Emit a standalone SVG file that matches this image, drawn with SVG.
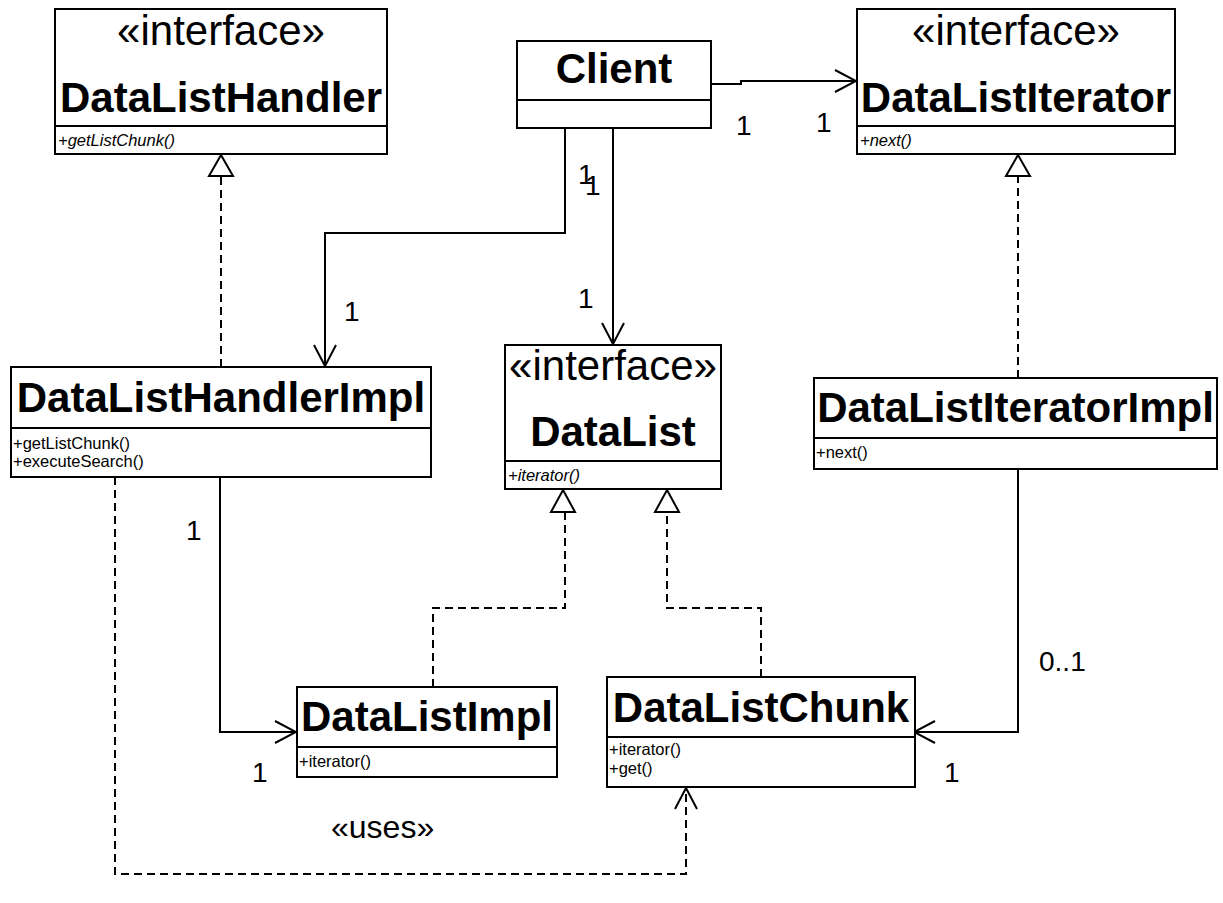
<svg xmlns="http://www.w3.org/2000/svg" width="1223" height="903" viewBox="0 0 1223 903">
<style>
.box{fill:#fff;stroke:#000;stroke-width:2}
.ln{fill:none;stroke:#000;stroke-width:2}
.dash{fill:none;stroke:#000;stroke-width:2;stroke-dasharray:8 5}
.tri{fill:#fff;stroke:#000;stroke-width:2}
.st{font-family:"Liberation Sans",Arial,sans-serif;font-size:42px;text-anchor:middle}
.nm{font-family:"Liberation Sans",Arial,sans-serif;font-size:42px;font-weight:bold;text-anchor:middle}
.op{font-family:"Liberation Sans",Arial,sans-serif;font-size:16.5px}
.opi{font-family:"Liberation Sans",Arial,sans-serif;font-size:16.5px;font-style:italic}
.lb{font-family:"Liberation Sans",Arial,sans-serif;font-size:28px}
</style>
<defs>
<marker id="open" viewBox="0 0 24 24" refX="22" refY="12" markerWidth="24" markerHeight="24" markerUnits="userSpaceOnUse" orient="auto">
<path d="M1 1 L22 12 L1 23" fill="none" stroke="#000" stroke-width="2"/>
</marker>
</defs>
<rect width="1223" height="903" fill="#fff"/>
<g id="connectors">
<path class="ln" d="M711 84 H741 V81 H856" marker-end="url(#open)"/>
<path class="ln" d="M565 128 V233 H325 V366" marker-end="url(#open)"/>
<path class="ln" d="M613 128 V344" marker-end="url(#open)"/>
<path class="ln" d="M220 477 V732 H296" marker-end="url(#open)"/>
<path class="ln" d="M1018 469 V732 H914" marker-end="url(#open)"/>
<path class="dash" d="M115 477 V874 H686 V788" marker-end="url(#open)"/>
<path class="dash" d="M221 367 V176"/>
<path class="dash" d="M1018 378 V176"/>
<path class="dash" d="M433 687 V608 H565 V512"/>
<path class="dash" d="M761 677 V608 H667 V512"/>
<path class="tri" d="M221 155 L233 176 L209 176 Z"/>
<path class="tri" d="M1018 155 L1030 176 L1006 176 Z"/>
<path class="tri" d="M563 490 L575 512 L551 512 Z"/>
<path class="tri" d="M667 490 L679 512 L655 512 Z"/>
<text class="lb" x="736" y="135">1</text>
<text class="lb" x="816" y="132">1</text>
<text class="lb" x="578" y="184">1</text>
<text class="lb" x="585" y="195">1</text>
<text class="lb" x="344" y="321">1</text>
<text class="lb" x="578" y="308">1</text>
<text class="lb" x="186" y="540">1</text>
<text class="lb" x="252" y="782">1</text>
<text class="lb" x="944" y="782">1</text>
<text class="lb" x="1039" y="671">0..1</text>
<text class="lb" x="331" y="838" style="font-size:32px">«uses»</text>
</g>
<g id="DataListHandler">
<rect class="box" x="55" y="9" width="332" height="145"/>
<line class="ln" x1="55" y1="126" x2="387" y2="126"/>
<text class="st" x="221" y="45">«interface»</text>
<text class="nm" x="221" y="112">DataListHandler</text>
<text class="opi" x="58" y="146">+getListChunk()</text>
</g>
<g id="Client">
<rect class="box" x="517" y="41" width="194" height="87"/>
<line class="ln" x1="517" y1="100" x2="711" y2="100"/>
<text class="nm" x="614" y="83">Client</text>
</g>
<g id="DataListIterator">
<rect class="box" x="857" y="9" width="318" height="145"/>
<line class="ln" x1="857" y1="126" x2="1175" y2="126"/>
<text class="st" x="1016" y="45">«interface»</text>
<text class="nm" x="1016" y="112">DataListIterator</text>
<text class="opi" x="860" y="146">+next()</text>
</g>
<g id="DataListHandlerImpl">
<rect class="box" x="11" y="367" width="420" height="110"/>
<line class="ln" x1="11" y1="428" x2="431" y2="428"/>
<text class="nm" x="221" y="412">DataListHandlerImpl</text>
<text class="op" x="13" y="449">+getListChunk()</text>
<text class="op" x="13" y="467">+executeSearch()</text>
</g>
<g id="DataList">
<rect class="box" x="505" y="345" width="216" height="144"/>
<line class="ln" x1="505" y1="461" x2="721" y2="461"/>
<text class="st" x="613" y="380">«interface»</text>
<text class="nm" x="613" y="446">DataList</text>
<text class="opi" x="508" y="481">+iterator()</text>
</g>
<g id="DataListIteratorImpl">
<rect class="box" x="814" y="378" width="403" height="91"/>
<line class="ln" x1="814" y1="438" x2="1217" y2="438"/>
<text class="nm" x="1015.5" y="422">DataListIteratorImpl</text>
<text class="op" x="816" y="458">+next()</text>
</g>
<g id="DataListImpl">
<rect class="box" x="297" y="687" width="260" height="90"/>
<line class="ln" x1="297" y1="747" x2="557" y2="747"/>
<text class="nm" x="427" y="731">DataListImpl</text>
<text class="op" x="299" y="767">+iterator()</text>
</g>
<g id="DataListChunk">
<rect class="box" x="607" y="677" width="308" height="110"/>
<line class="ln" x1="607" y1="737" x2="915" y2="737"/>
<text class="nm" x="761" y="722">DataListChunk</text>
<text class="op" x="609" y="755">+iterator()</text>
<text class="op" x="609" y="774">+get()</text>
</g>
</svg>
